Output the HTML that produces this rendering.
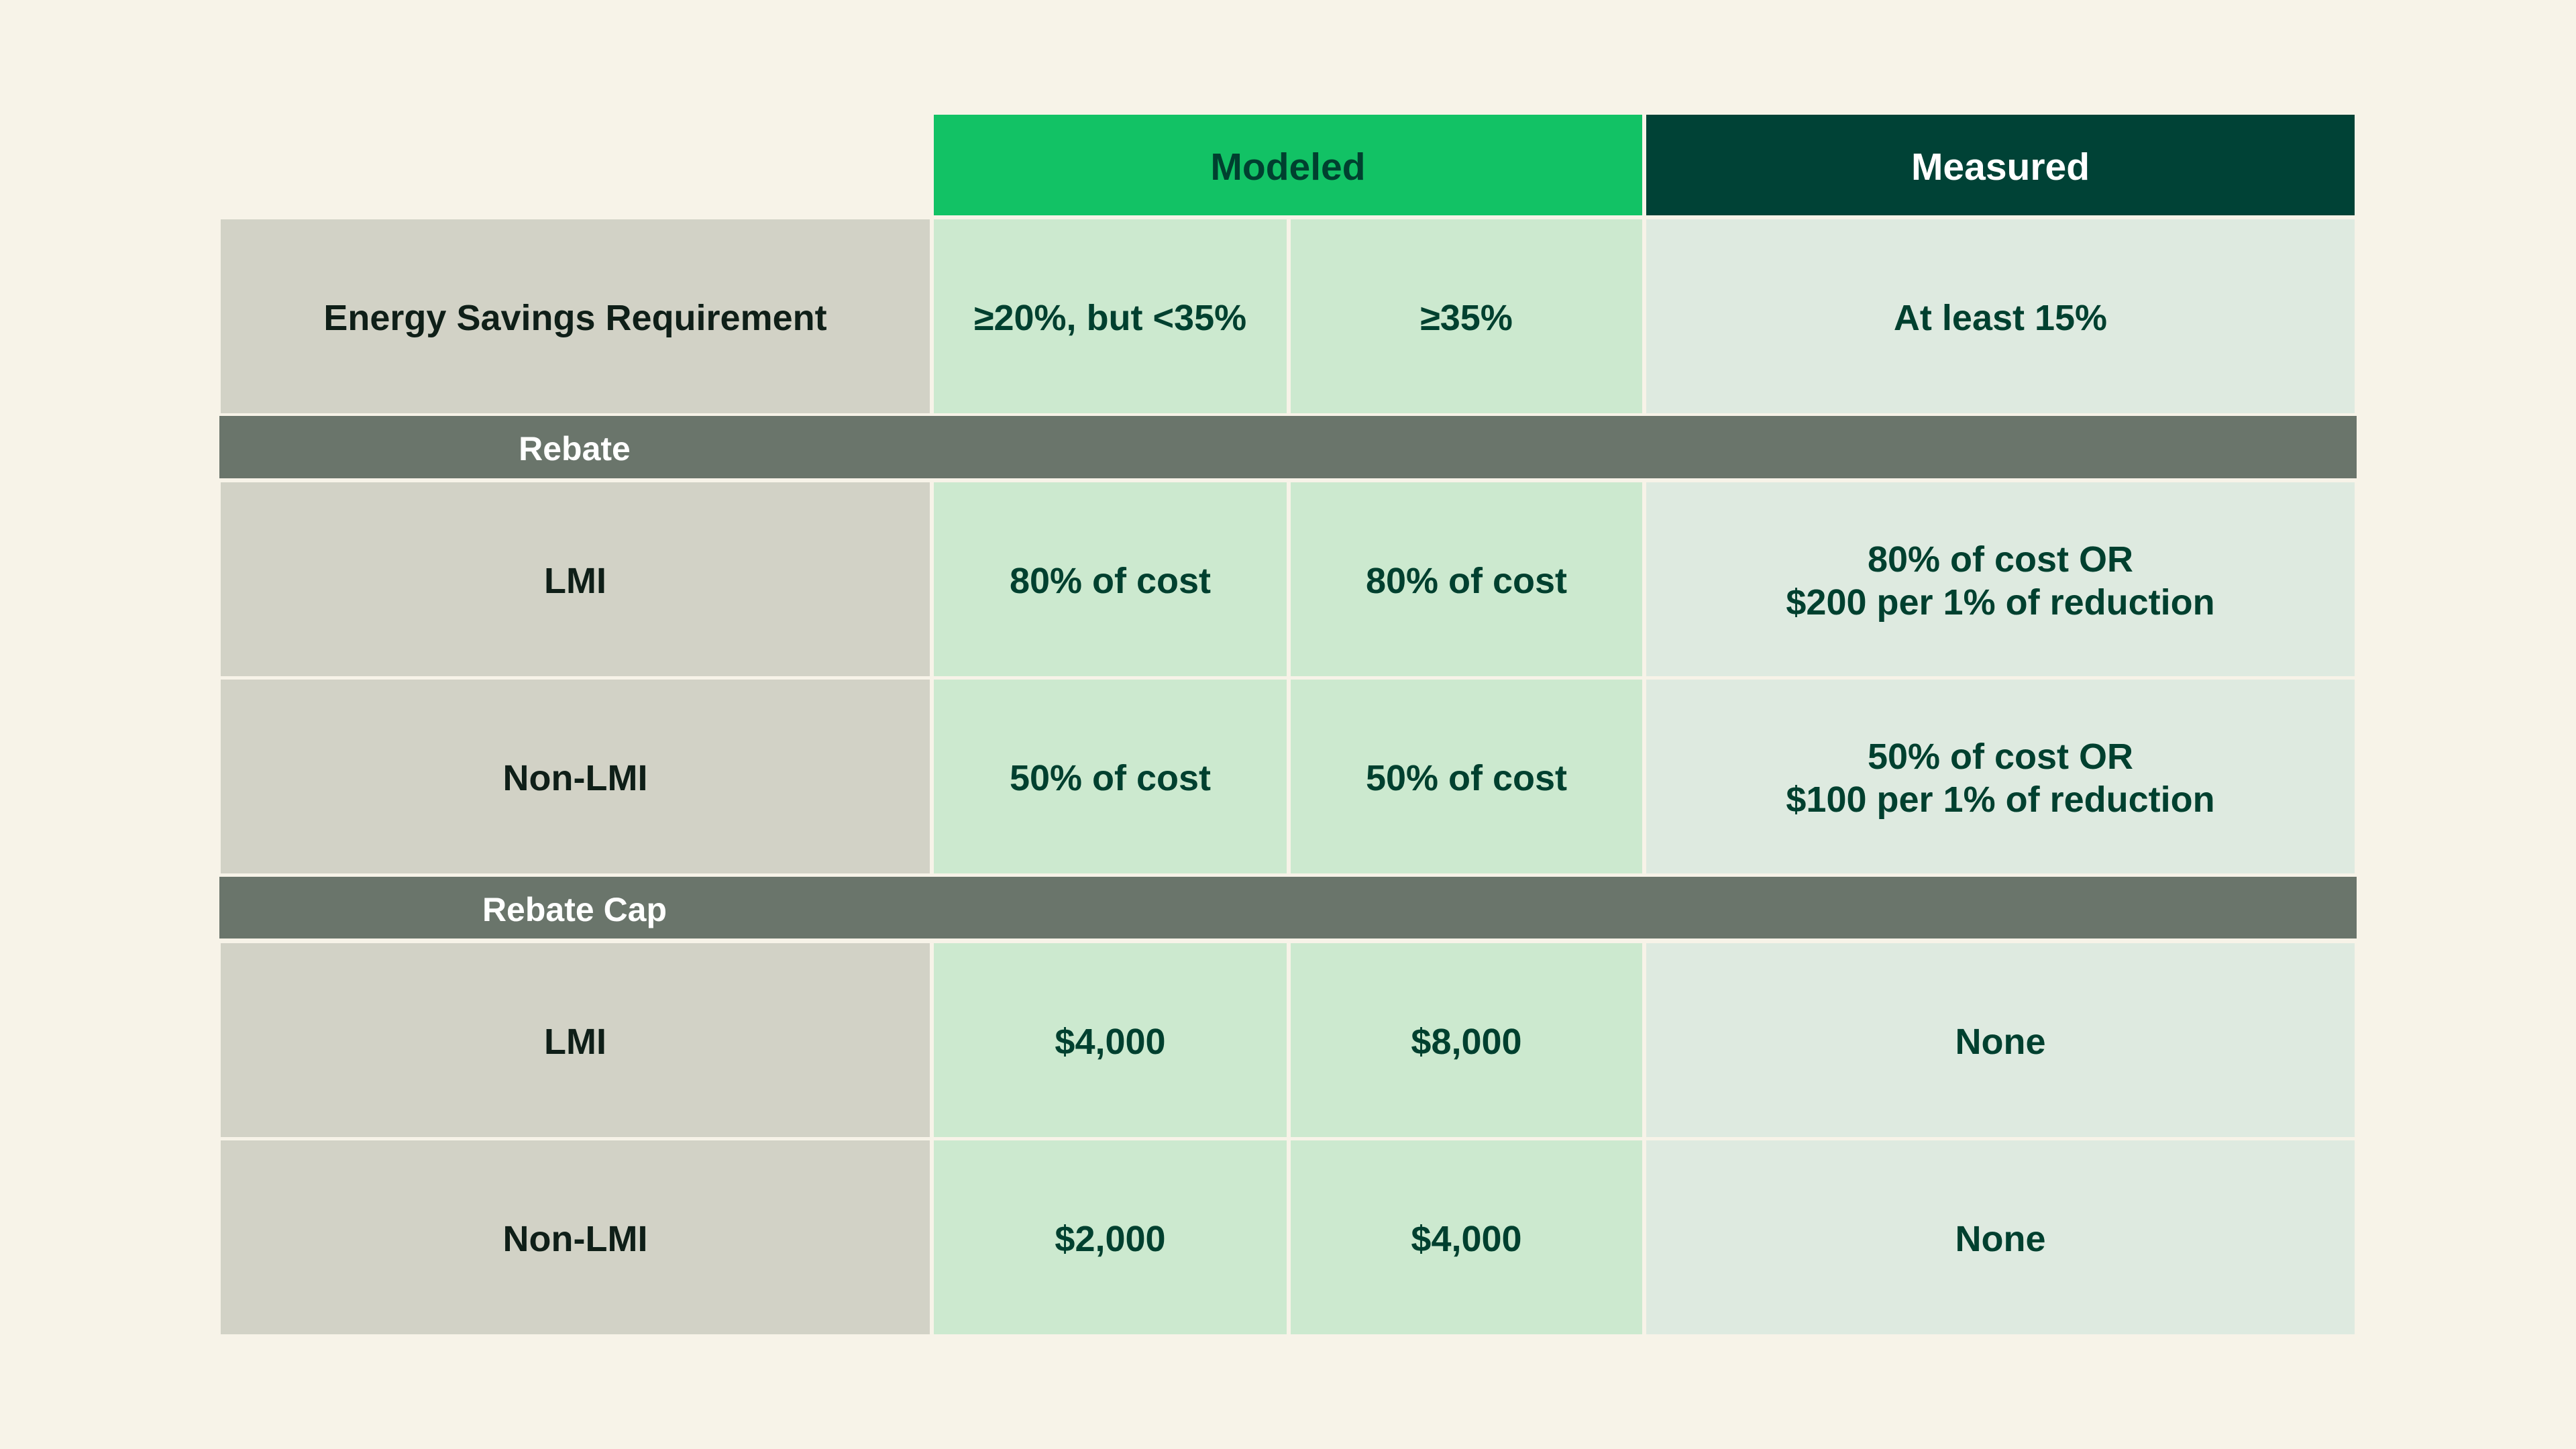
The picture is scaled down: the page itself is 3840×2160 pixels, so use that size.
<!DOCTYPE html>
<html><head><meta charset="utf-8"><style>
body{margin:0;width:3840px;height:2160px;background:#F7F3E8;font-family:"Liberation Sans",sans-serif;position:relative;overflow:hidden}
.c{position:absolute;display:flex;align-items:center;justify-content:center;text-align:center;font-weight:700;font-size:54px;line-height:64px;color:#00402F;box-sizing:border-box;padding-top:5px}
.lab{background:#D2D2C6;color:#0F1F18}
.g{background:#CCE9CF}
.m{background:#DEEAE0}
.band{background:#6A756B;color:#fff;font-size:50px}
</style></head><body>
<div class="c" style="left:1392px;top:171px;width:1056px;height:150px;background:#12C265;font-size:57px">Modeled</div>
<div class="c" style="left:2454px;top:171px;width:1056px;height:150px;background:#004236;color:#fff;font-size:57px">Measured</div>

<div class="c lab" style="left:329px;top:327px;width:1057px;height:289px">Energy Savings Requirement</div>
<div class="c g" style="left:1392px;top:327px;width:526px;height:289px">≥20%, but &lt;35%</div>
<div class="c g" style="left:1924px;top:327px;width:524px;height:289px">≥35%</div>
<div class="c m" style="left:2454px;top:327px;width:1056px;height:289px">At least 15%</div>

<div class="c band" style="left:327px;top:620px;width:3186px;height:93px;justify-content:flex-start"><span style="width:1059px;display:block">Rebate</span></div>

<div class="c lab" style="left:329px;top:719px;width:1057px;height:289px">LMI</div>
<div class="c g" style="left:1392px;top:719px;width:526px;height:289px">80% of cost</div>
<div class="c g" style="left:1924px;top:719px;width:524px;height:289px">80% of cost</div>
<div class="c m" style="left:2454px;top:719px;width:1056px;height:289px">80% of cost OR<br>$200 per 1% of reduction</div>

<div class="c lab" style="left:329px;top:1013px;width:1057px;height:289px">Non-LMI</div>
<div class="c g" style="left:1392px;top:1013px;width:526px;height:289px">50% of cost</div>
<div class="c g" style="left:1924px;top:1013px;width:524px;height:289px">50% of cost</div>
<div class="c m" style="left:2454px;top:1013px;width:1056px;height:289px">50% of cost OR<br>$100 per 1% of reduction</div>

<div class="c band" style="left:327px;top:1307px;width:3186px;height:92px;justify-content:flex-start"><span style="width:1059px;display:block">Rebate Cap</span></div>

<div class="c lab" style="left:329px;top:1406px;width:1057px;height:289px">LMI</div>
<div class="c g" style="left:1392px;top:1406px;width:526px;height:289px">$4,000</div>
<div class="c g" style="left:1924px;top:1406px;width:524px;height:289px">$8,000</div>
<div class="c m" style="left:2454px;top:1406px;width:1056px;height:289px">None</div>

<div class="c lab" style="left:329px;top:1700px;width:1057px;height:289px">Non-LMI</div>
<div class="c g" style="left:1392px;top:1700px;width:526px;height:289px">$2,000</div>
<div class="c g" style="left:1924px;top:1700px;width:524px;height:289px">$4,000</div>
<div class="c m" style="left:2454px;top:1700px;width:1056px;height:289px">None</div>
</body></html>
